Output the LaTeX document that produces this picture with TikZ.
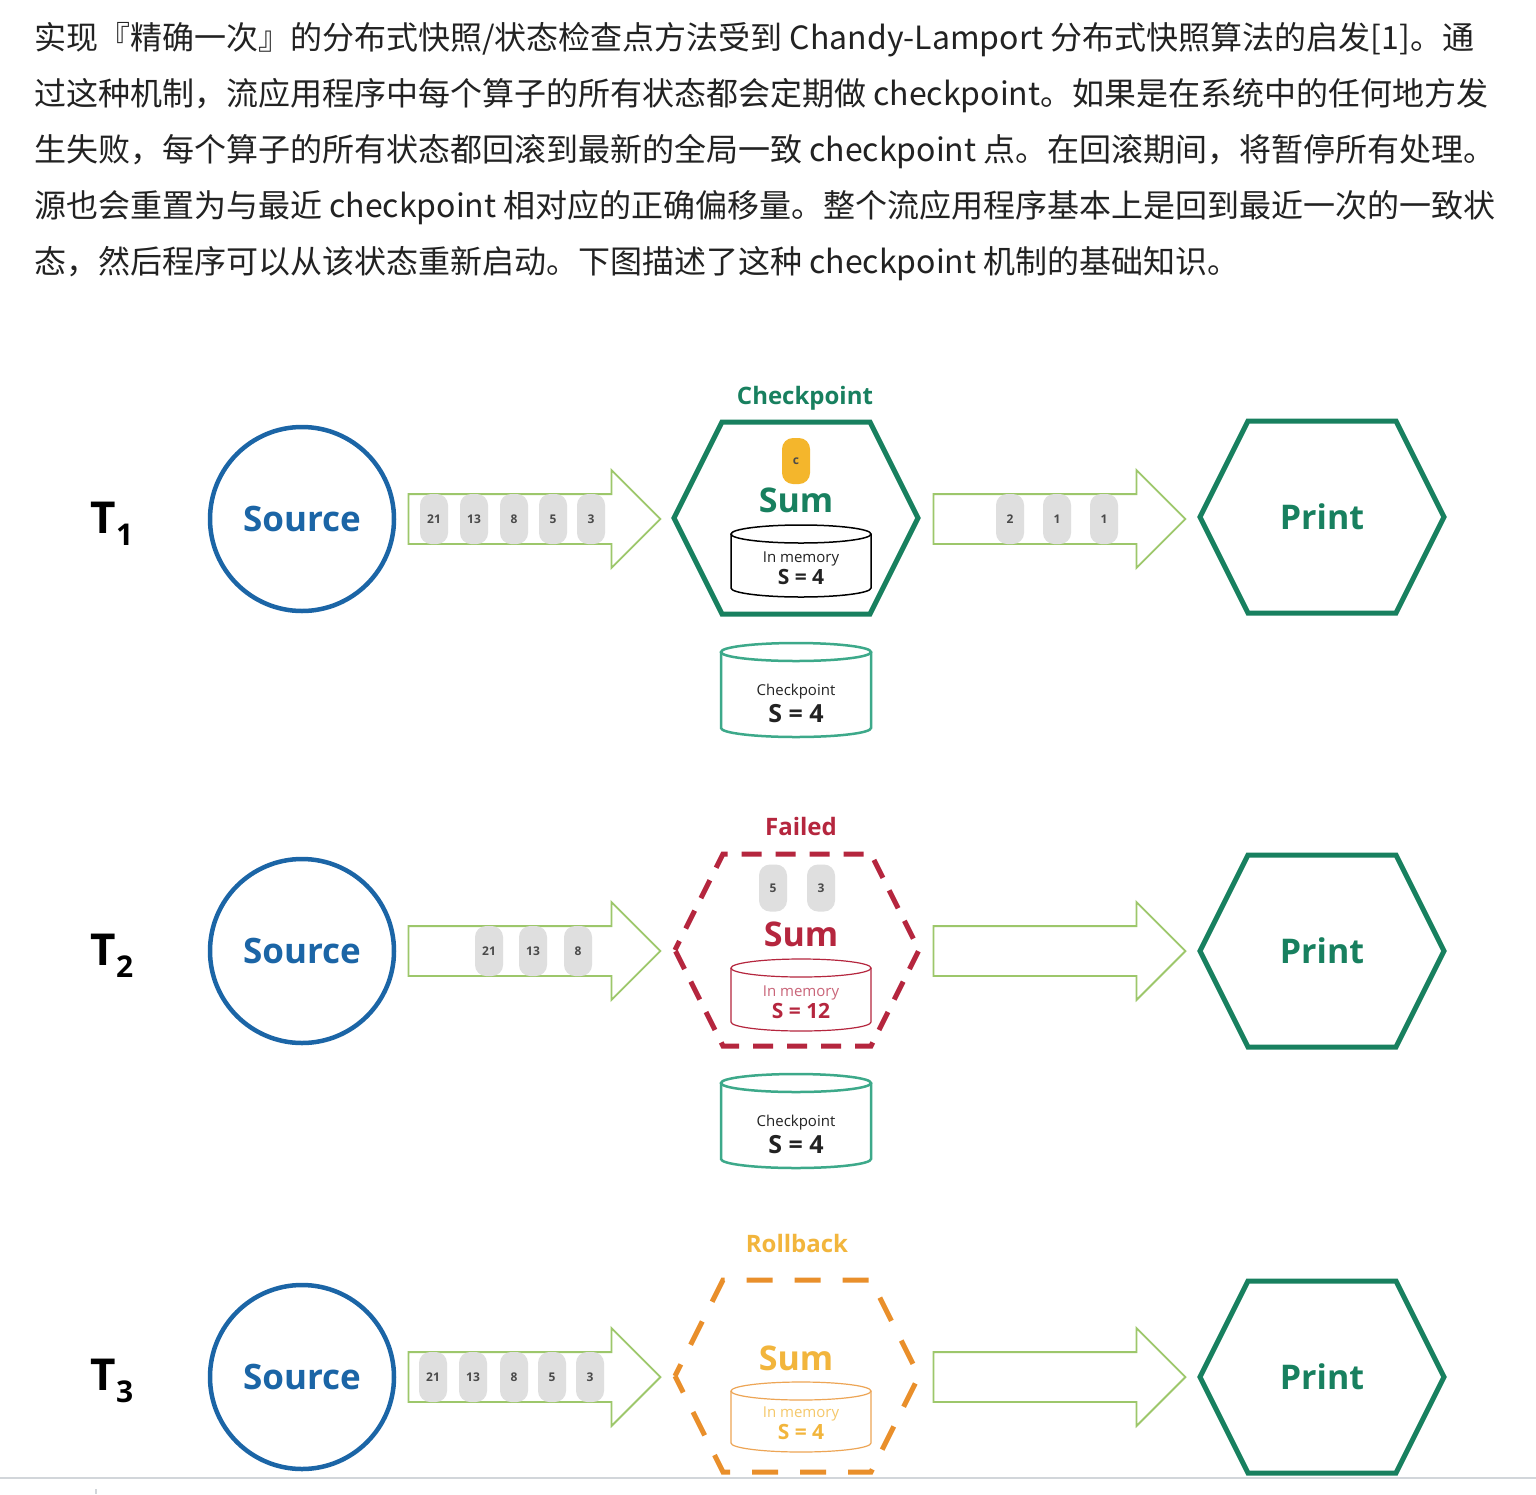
\documentclass[tikz,border=0pt]{standalone}
\usepackage{fontspec}
\setmainfont{Open Sans}
\newfontfamily\cjkfont{Noto Sans CJK SC}
\usetikzlibrary{shapes.arrows}

\definecolor{srcblue}{HTML}{1B65A6}
\definecolor{opgreen}{HTML}{18805F}
\definecolor{pipegreen}{HTML}{9DC76B}
\definecolor{chipgrey}{HTML}{DFDFDF}
\definecolor{chiptext}{HTML}{4A4A4A}
\definecolor{markyellow}{HTML}{F4B62C}
\definecolor{storeteal}{HTML}{3DA98A}
\definecolor{failred}{HTML}{B5263E}
\definecolor{failpink}{HTML}{C96478}
\definecolor{rollorange}{HTML}{E98F2B}
\definecolor{rollyellow}{HTML}{F2B53C}
\definecolor{rollpale}{HTML}{F5C86A}
\definecolor{bodytext}{HTML}{222222}
\definecolor{rulegrey}{HTML}{D2D6DA}

\begin{document}
\begin{tikzpicture}[x=1pt,y=-1pt,
    hexa/.pic={\draw[pic actions] (-122,0) -- (-74,-96) -- (74,-96) -- (122,0) -- (74,96) -- (-74,96) -- cycle;},
    pics/drum/.style 2 args={code={
        \draw[pic actions] (-#1,-#2) -- (-#1,#2) arc[start angle=180,end angle=0,x radius=#1,y radius=9] -- (#1,-#2);
        \draw[pic actions] (0,-#2) ellipse[x radius=#1,y radius=9];}}]
    \tikzstyle{para}=[anchor=base west,inner sep=0pt,text=bodytext,font=\cjkfont\fontsize{32}{56}\selectfont]
    \tikzstyle{tlabel}=[inner sep=0pt,font=\fontsize{44}{44}\selectfont\bfseries]
    \tikzstyle{source}=[circle,draw=srcblue,line width=4.5pt,minimum size=184pt,inner sep=0pt,text=srcblue,font=\fontsize{35}{35}\selectfont\bfseries]
    \tikzstyle{optext}=[inner sep=0pt,text=opgreen,font=\fontsize{34}{34}\selectfont\bfseries]
    \tikzstyle{state}=[inner sep=0pt,font=\fontsize{24}{24}\selectfont\bfseries]
    \tikzstyle{pipe}=[single arrow,draw=pipegreen,line width=1.8pt,minimum height=252pt,text height=24pt,text depth=24pt,inner sep=0pt,single arrow head extend=24pt,single arrow tip angle=90]
    \tikzstyle{chip}=[rectangle,rounded corners=11pt,fill=chipgrey,minimum width=28pt,minimum height=50pt,inner sep=0pt,text=chiptext,font=\fontsize{12}{12}\selectfont\bfseries]
    \tikzstyle{memtext}=[inner sep=0pt,align=center,font=\fontsize{15}{22}\selectfont]
    \tikzstyle{cktext}=[inner sep=0pt,align=center,font=\fontsize{15}{27}\selectfont]

    % Background and page rule
    \fill[white] (0,0) rectangle (1536,1494);
    \useasboundingbox (0,0) rectangle (1536,1494);
    \draw[rulegrey,line width=2pt] (0,1478) -- (1536,1478);
    \draw[rulegrey,line width=1.5pt] (96,1489) -- (96,1494);

    % Paragraph
    \node[para] (l1) at (34,49) {实现『精确一次』的分布式快照/状态检查点方法受到 Chandy-Lamport 分布式快照算法的启发[1]。通};
    \node[para] (l2) at (34,105) {过这种机制，流应用程序中每个算子的所有状态都会定期做 checkpoint。如果是在系统中的任何地方发};
    \node[para] (l3) at (34,161) {生失败，每个算子的所有状态都回滚到最新的全局一致 checkpoint 点。在回滚期间，将暂停所有处理。};
    \node[para] (l4) at (34,217) {源也会重置为与最近 checkpoint 相对应的正确偏移量。整个流应用程序基本上是回到最近一次的一致状};
    \node[para] (l5) at (34,273) {态，然后程序可以从该状态重新启动。下图描述了这种 checkpoint 机制的基础知识。};

    % Row T1: checkpoint
    \node[tlabel] (t1) at (112,524) {T\raisebox{-12pt}{\fontsize{30}{30}\selectfont 1}};
    \node[source] (src1) at (302,519) {Source};
    \node[pipe] (in1) at (522,519) {};
    \node[chip] (c11) at (434,519) {21};
    \node[chip] (c12) at (474,519) {13};
    \node[chip] (c13) at (514,519) {8};
    \node[chip] (c14) at (553,519) {5};
    \node[chip] (c15) at (591,519) {3};
    \coordinate (op1) at (796,518);
    \pic[draw=opgreen,line width=5pt] at (op1) {hexa};
    \node[state,text=opgreen] (st1) at (805,398) {Checkpoint};
    \node[chip,fill=markyellow,minimum height=46pt,text=chiptext] (mark1) at (796,461) {c};
    \node[optext] (sum1) at (796,500) {Sum};
    \pic[draw=black,line width=1.5pt] at (801,561) {drum={70}{27}};
    \node[memtext,text=bodytext] (mem1) at (801,568) {In memory\\\fontsize{21}{22}\selectfont\bfseries S = 4};
    \pic[draw=storeteal,line width=2.5pt] at (796,690) {drum={75}{38}};
    \node[cktext,text=bodytext] (ck1) at (796,703) {Checkpoint\\\fontsize{25}{27}\selectfont\bfseries S = 4};
    \node[pipe] (out1) at (1047,519) {};
    \node[chip] (d11) at (1010,519) {2};
    \node[chip] (d12) at (1057,519) {1};
    \node[chip] (d13) at (1104,519) {1};
    \coordinate (pr1) at (1322,517);
    \pic[draw=opgreen,line width=5pt] at (pr1) {hexa};
    \node[optext] (print1) at (pr1) {Print};

    % Row T2: failure
    \node[tlabel] (t2) at (112,956) {T\raisebox{-12pt}{\fontsize{30}{30}\selectfont 2}};
    \node[source] (src2) at (302,951) {Source};
    \node[pipe] (in2) at (522,951) {};
    \node[chip] (c21) at (489,951) {21};
    \node[chip] (c22) at (533,951) {13};
    \node[chip] (c23) at (578,951) {8};
    \coordinate (op2) at (797,950);
    \pic[draw=failred,line width=5pt,dash pattern=on 20pt off 14pt,dash phase=10pt] at (op2) {hexa};
    \node[state,text=failred] (st2) at (801,826) {Failed};
    \node[chip,minimum height=47pt] (c24) at (773,888) {5};
    \node[chip,minimum height=47pt] (c25) at (821,888) {3};
    \node[optext,text=failred] (sum2) at (801,934) {Sum};
    \pic[draw=failred,line width=1.2pt] at (801,995) {drum={70}{27}};
    \node[memtext,text=failpink] (mem2) at (801,1002) {In memory\\\fontsize{21}{22}\selectfont\bfseries\color{failred}S = 12};
    \pic[draw=storeteal,line width=2.5pt] at (796,1121) {drum={75}{38}};
    \node[cktext,text=bodytext] (ck2) at (796,1134) {Checkpoint\\\fontsize{25}{27}\selectfont\bfseries S = 4};
    \node[pipe] (out2) at (1047,951) {};
    \coordinate (pr2) at (1322,951);
    \pic[draw=opgreen,line width=5pt] at (pr2) {hexa};
    \node[optext] (print2) at (pr2) {Print};

    % Row T3: rollback
    \node[tlabel] (t3) at (112,1381) {T\raisebox{-12pt}{\fontsize{30}{30}\selectfont 3}};
    \node[source] (src3) at (302,1377) {Source};
    \node[pipe] (in3) at (522,1377) {};
    \node[chip] (c31) at (433,1377) {21};
    \node[chip] (c32) at (473,1377) {13};
    \node[chip] (c33) at (514,1377) {8};
    \node[chip] (c34) at (552,1377) {5};
    \node[chip] (c35) at (590,1377) {3};
    \coordinate (op3) at (797,1376);
    \pic[draw=rollorange,line width=5pt,dash pattern=on 26pt off 22pt,dash phase=13pt] at (op3) {hexa};
    \node[state,text=rollyellow] (st3) at (797,1243) {Rollback};
    \node[optext,text=rollyellow] (sum3) at (796,1358) {Sum};
    \pic[draw=rollorange!80,line width=1.2pt] at (801,1417) {drum={70}{26}};
    \node[memtext,text=rollpale] (mem3) at (801,1423) {In memory\\\fontsize{21}{22}\selectfont\bfseries\color{rollyellow}S = 4};
    \node[pipe] (out3) at (1047,1377) {};
    \coordinate (pr3) at (1322,1377);
    \pic[draw=opgreen,line width=5pt] at (pr3) {hexa};
    \node[optext] (print3) at (pr3) {Print};
\end{tikzpicture}
\end{document}
